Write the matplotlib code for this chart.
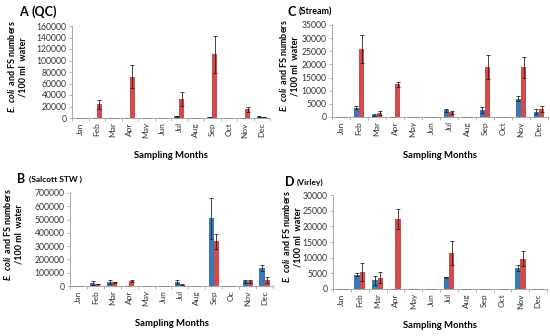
import numpy as np
import matplotlib
matplotlib.use('Agg')
import matplotlib.pyplot as plt

plt.rcParams['font.family'] = ['Lato', 'DejaVu Sans']
plt.rcParams['mathtext.fontset'] = 'custom'
plt.rcParams['mathtext.it'] = 'Lato:italic:bold'
plt.rcParams['mathtext.rm'] = 'Lato:bold'

months = ['Jan', 'Feb', 'Mar', 'Apr', 'May', 'Jun', 'Jul', 'Aug', 'Sep', 'Oct', 'Nov', 'Dec']
months_b = ['Jan', 'Feb', 'Mar', 'Apr', 'May', 'Jun', 'Jul', 'Aug', 'Sep', 'Oc', 'Nov', 'Dec']

# A (QC)
qc_ecoli = [0, 0, 500, 0, 0, 0, 3000, 0, 1500, 0, 0, 2500]
qc_ecoli_err = [0, 0, 0, 0, 0, 0, 500, 0, 300, 0, 0, 500]
qc_fs = [0, 24000, 0, 72000, 0, 0, 33000, 0, 111000, 0, 15000, 1500]
qc_fs_err = [0, 8000, 0, 20000, 0, 0, 12000, 0, 32000, 0, 5000, 500]

# C (Stream)
st_ecoli = [0, 3500, 800, 0, 0, 0, 2500, 0, 2700, 0, 7000, 2000]
st_ecoli_err = [0, 600, 300, 0, 0, 0, 600, 0, 1000, 0, 1000, 1000]
st_fs = [0, 25800, 1500, 12500, 0, 0, 1800, 0, 19000, 0, 19000, 3000]
st_fs_err = [0, 5300, 800, 1000, 0, 0, 500, 0, 4500, 0, 4000, 1000]

# B (Salcott STW)
sa_ecoli = [0, 25000, 32000, 0, 0, 0, 30000, 0, 510000, 0, 35000, 135000]
sa_ecoli_err = [0, 15000, 15000, 0, 0, 0, 15000, 0, 155000, 0, 12000, 25000]
sa_fs = [0, 15000, 28000, 40000, 0, 0, 10000, 0, 335000, 0, 35000, 45000]
sa_fs_err = [0, 2000, 5000, 8000, 0, 0, 3000, 0, 60000, 0, 12000, 20000]

# D (Virley)
vi_ecoli = [0, 4500, 2800, 0, 0, 0, 3700, 0, 0, 0, 6800, 0]
vi_ecoli_err = [0, 500, 1500, 0, 0, 0, 200, 0, 0, 0, 1000, 0]
vi_fs = [0, 5500, 3600, 22300, 0, 0, 11500, 0, 0, 0, 9600, 0]
vi_fs_err = [0, 2800, 1700, 3200, 0, 0, 3700, 0, 0, 0, 2400, 0]

blue = '#3a78b8'
red = '#d24a4a'
ylab = r'$\mathit{E.}\;\mathit{coli}\;\;\mathrm{and\;FS\;numbers}$' + '\n/100 ml  water'

W, H = 550, 336
fig = plt.figure(figsize=(5.5, 3.36), dpi=100)


def panel(px, letter, sub, subsize, tpos, labs, e, ee, f, fe, ymax, step, xlab_y, ylab_x):
    l, t, r, b = px
    ax = fig.add_axes([l / W, 1 - b / H, (r - l) / W, (b - t) / H])
    x = np.arange(12)
    ax.bar(x - 0.15, e, 0.3, color=blue, yerr=ee, ecolor='#222222',
           error_kw=dict(lw=0.6, capsize=1.5, capthick=0.6))
    ax.bar(x + 0.15, f, 0.3, color=red, yerr=fe, ecolor='#222222',
           error_kw=dict(lw=0.6, capsize=1.5, capthick=0.6))
    ax.set_xlim(-0.5, 11.5)
    ax.set_ylim(0, ymax)
    ax.set_yticks(np.arange(0, ymax + 1, step))
    ax.set_xticks(x)
    ax.set_xticklabels(labs, rotation=90, fontsize=6, color='#333333')
    ax.set_xticks(np.arange(-0.5, 12, 1), minor=True)
    ax.tick_params(axis='x', which='major', length=0, pad=3)
    ax.tick_params(axis='x', which='minor', length=2, color='#999999', width=0.5)
    ax.tick_params(axis='y', labelsize=6.2, length=2, color='#999999', width=0.5,
                   labelcolor='#333333', pad=2)
    for s in ['top', 'right']:
        ax.spines[s].set_visible(False)
    for s in ['left', 'bottom']:
        ax.spines[s].set_color('#999999')
        ax.spines[s].set_linewidth(0.6)
    fig.text(tpos[0] / W, 1 - tpos[1] / H, letter, fontsize=9, fontweight='bold', va='center')
    fig.text((tpos[0] + 12) / W, 1 - tpos[1] / H, sub, fontsize=subsize, fontweight='bold', va='center')
    fig.text(ylab_x / W, 1 - ((t + b) / 2 - 5) / H, ylab, rotation=90, fontsize=6.5,
             fontweight='bold', ha='center', va='center', linespacing=1.15)
    fig.text((l + r) / 2 / W, 1 - xlab_y / H, 'Sampling Months', fontsize=6.8,
             fontweight='bold', ha='center', va='center')
    return ax


panel((72, 26, 270, 118), 'A', '(QC)', 9, (19, 12), months,
      qc_ecoli, qc_ecoli_err, qc_fs, qc_fs_err, 160000, 20000, 155, 17)
panel((332, 25, 548, 117), 'C', '(Stream)', 6.5, (287, 12), months,
      st_ecoli, st_ecoli_err, st_fs, st_fs_err, 35000, 5000, 155, 289)
panel((70, 193, 273, 286), 'B', '(Salcott STW )', 6, (17, 179), months_b,
      sa_ecoli, sa_ecoli_err, sa_fs, sa_fs_err, 700000, 100000, 323, 13)
panel((333, 195, 547, 289), 'D', '(Virley)', 6, (285, 182), months,
      vi_ecoli, vi_ecoli_err, vi_fs, vi_fs_err, 30000, 5000, 325, 292)

fig.savefig('out.png', dpi=100)
